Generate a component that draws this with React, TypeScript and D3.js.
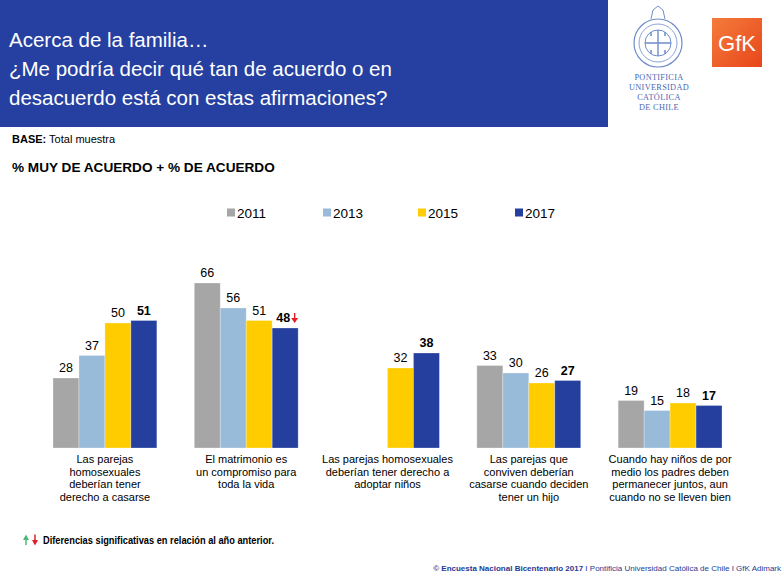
import { useEffect, useRef } from "react";
import * as d3 from "d3";

const categories = ["c1", "c2", "c3", "c4", "c5"];
const categoryLabels = [
  ["Las parejas", "homosexuales", "deberían tener", "derecho a casarse"],
  ["El matrimonio es", "un compromiso para", "toda la vida"],
  ["Las parejas homosexuales", "deberían tener derecho a", "adoptar niños"],
  ["Las parejas que", "conviven deberían", "casarse cuando deciden", "tener un hijo"],
  ["Cuando hay niños de por", "medio los padres deben", "permanecer juntos, aun", "cuando no se lleven bien"],
];
const years = ["2011", "2013", "2015", "2017"];
const values2011 = [28, 66, null, 33, 19];
const values2013 = [37, 56, null, 30, 15];
const values2015 = [50, 51, 32, 26, 18];
const values2017 = [51, 48, 38, 27, 17];
const change2017 = ["", "down", "", "", ""];
const yearColors = ["#a6a6a6", "#98bbd9", "#ffcc00", "#243f9e"];
const titleLines = [
  "Acerca de la familia…",
  "¿Me podría decir qué tan de acuerdo o en",
  "desacuerdo está con estas afirmaciones?",
];
const pucLines = ["PONTIFICIA", "UNIVERSIDAD", "CATÓLICA", "DE CHILE"];

const W = 783;
const H = 578;
const FONT = "'Liberation Sans', Arial, sans-serif";
const NARROW = "'Liberation Sans Narrow', 'Arial Narrow', 'Liberation Sans', sans-serif";

export default function App() {
  const svgRef = useRef<SVGSVGElement | null>(null);

  useEffect(() => {
    document.body.style.margin = "0";
    if (!svgRef.current) return;
    const svg = d3.select(svgRef.current);
    svg.selectAll("*").remove();

    svg.append("rect").attr("width", W).attr("height", H).attr("fill", "#fff");

    // header band
    svg.append("rect").attr("x", 0).attr("y", 0).attr("width", 608).attr("height", 127).attr("fill", "#2540a0");
    svg.append("g")
      .selectAll("text")
      .data(titleLines)
      .join("text")
      .attr("x", 9)
      .attr("y", (_d, i) => 47 + i * 29)
      .attr("fill", "#fff")
      .style("font-family", FONT)
      .style("font-size", "20.5px")
      .text((d) => d);

    // PUC seal (simplified)
    const seal = svg.append("g").attr("transform", "translate(658,43)").attr("fill", "none").attr("stroke", "#6f8ccb");
    seal.append("circle").attr("r", 24).attr("stroke-width", 1.2);
    seal.append("circle").attr("r", 19).attr("stroke-width", 0.8);
    seal.append("circle").attr("r", 13).attr("stroke-width", 1);
    seal.append("path").attr("d", "M-13,0H13M0,-13V13").attr("stroke-width", 1.4);
    seal.append("path").attr("d", "M-7,-24 L-5,-33 L0,-37 L5,-33 L7,-24").attr("stroke-width", 1);
    seal.append("path").attr("d", "M-7,-7 l0,-4 M7,-7 l0,-4 M-7,7 l0,4 M7,7 l0,4").attr("stroke-width", 1.5);
    svg.append("g")
      .selectAll("text")
      .data(pucLines)
      .join("text")
      .attr("x", 659)
      .attr("y", (_d, i) => 80 + i * 10)
      .attr("text-anchor", "middle")
      .attr("fill", "#4a68b4")
      .style("font-family", "'Liberation Serif', 'DejaVu Serif', serif")
      .style("font-size", "8.3px")
      .style("letter-spacing", "0.3px")
      .text((d) => d);

    // GfK logo
    const grad = svg.append("defs").append("linearGradient").attr("id", "gfk").attr("x1", 0).attr("y1", 0).attr("x2", 1).attr("y2", 1);
    grad.append("stop").attr("offset", "0%").attr("stop-color", "#f47c3c");
    grad.append("stop").attr("offset", "100%").attr("stop-color", "#e8461a");
    svg.append("rect").attr("x", 712).attr("y", 18).attr("width", 50).attr("height", 49).attr("fill", "url(#gfk)");
    svg.append("text")
      .attr("x", 737).attr("y", 51)
      .attr("text-anchor", "middle")
      .attr("fill", "#fff")
      .style("font-family", FONT)
      .style("font-size", "22px")
      .text("GfK");

    // base / subtitle
    const base = svg.append("text").attr("x", 12).attr("y", 143).style("font-family", FONT).style("font-size", "11px").attr("fill", "#000");
    base.append("tspan").style("font-weight", "bold").text("BASE:");
    base.append("tspan").text(" Total muestra");
    svg.append("text")
      .attr("x", 12).attr("y", 172)
      .style("font-family", FONT).style("font-size", "13.6px").style("font-weight", "bold")
      .text("% MUY DE ACUERDO + % DE ACUERDO");

    // legend
    const legendX = [227, 323, 418, 515];
    const legend = svg.append("g")
      .selectAll("g")
      .data(years)
      .join("g")
      .attr("transform", (_d, i) => `translate(${legendX[i]},213)`);
    legend.append("rect").attr("x", 0).attr("y", -4.5).attr("width", 8).attr("height", 8).attr("fill", (_d, i) => yearColors[i]);
    legend.append("text").attr("x", 10).attr("y", 5).style("font-family", FONT).style("font-size", "13.5px").text((d) => d);

    // bars
    const series = [values2011, values2013, values2015, values2017];
    const x = d3.scaleBand<string>().domain(categories).range([53, 722]).paddingInner(0.265).paddingOuter(0);
    const xi = d3.scaleBand<string>().domain(years).range([0, x.bandwidth()]).padding(0);
    const y = d3.scaleLinear().domain([0, 100]).range([448, 198]);

    const groups = svg.append("g")
      .selectAll("g")
      .data(categories)
      .join("g")
      .attr("transform", (d) => `translate(${x(d)},0)`);

    groups.each(function (_c, ci) {
      const g = d3.select(this);
      years.forEach((yr, si) => {
        const v = series[si][ci];
        if (v == null) return;
        const bx = xi(yr)!;
        g.append("rect")
          .attr("x", bx)
          .attr("y", y(v))
          .attr("width", xi.bandwidth())
          .attr("height", y(0) - y(v))
          .attr("fill", yearColors[si])
          .attr("stroke", "#ffffff")
          .attr("stroke-opacity", 0.35)
          .attr("stroke-width", 0.8);
        const arrow = si === 3 ? change2017[ci] : "";
        const cx = bx + xi.bandwidth() / 2 - (arrow ? 2 : 0);
        g.append("text")
          .attr("x", cx)
          .attr("y", y(v) - 6)
          .attr("text-anchor", "middle")
          .style("font-family", FONT)
          .style("font-size", "12.5px")
          .style("font-weight", si === 3 ? "bold" : "normal")
          .text(v);
        if (arrow === "down") {
          const ax = cx + 11.5;
          const ay = y(v) - 15;
          g.append("path").attr("d", `M${ax},${ay} V${ay + 6}`).attr("stroke", "#e31e24").attr("stroke-width", 1.4);
          g.append("path").attr("d", `M${ax - 3.5},${ay + 5} L${ax + 3.5},${ay + 5} L${ax},${ay + 10} Z`).attr("fill", "#e31e24");
        }
      });
      g.append("g")
        .selectAll("text")
        .data(categoryLabels[ci])
        .join("text")
        .attr("x", x.bandwidth() / 2)
        .attr("y", (_d, i) => 463 + i * 12.5)
        .attr("text-anchor", "middle")
        .style("font-family", FONT)
        .style("font-size", "11px")
        .text((d) => d);
    });

    // footer note
    svg.append("path").attr("d", "M26,545 V539").attr("stroke", "#4cb878").attr("stroke-width", 1.5);
    svg.append("path").attr("d", "M23,540 L29,540 L26,534.5 Z").attr("fill", "#4cb878");
    svg.append("path").attr("d", "M35,534.5 V541").attr("stroke", "#e31e24").attr("stroke-width", 1.5);
    svg.append("path").attr("d", "M32,540 L38,540 L35,545.5 Z").attr("fill", "#e31e24");
    svg.append("text")
      .attr("x", 43).attr("y", 544)
      .attr("textLength", 231).attr("lengthAdjust", "spacingAndGlyphs")
      .style("font-family", NARROW).style("font-size", "10px").style("font-weight", "bold")
      .text("Diferencias significativas en relación al año anterior.");

    // copyright: shrink font to fit the space the reference gives it
    const copy = svg.append("text")
      .attr("x", 781).attr("y", 571)
      .attr("text-anchor", "end")
      .attr("fill", "#1f3a93")
      .style("font-family", NARROW).style("font-size", "9px");
    copy.append("tspan").style("font-weight", "bold").text("© Encuesta Nacional Bicentenario 2017");
    copy.append("tspan").text(" I Pontificia Universidad Católica de Chile I GfK Adimark");
    const len = (copy.node() as SVGTextElement).getComputedTextLength();
    if (len > 0) copy.style("font-size", `${(9 * 348) / len}px`);
  }, []);

  return <svg ref={svgRef} width={W} height={H} style={{ display: "block" }} />;
}
